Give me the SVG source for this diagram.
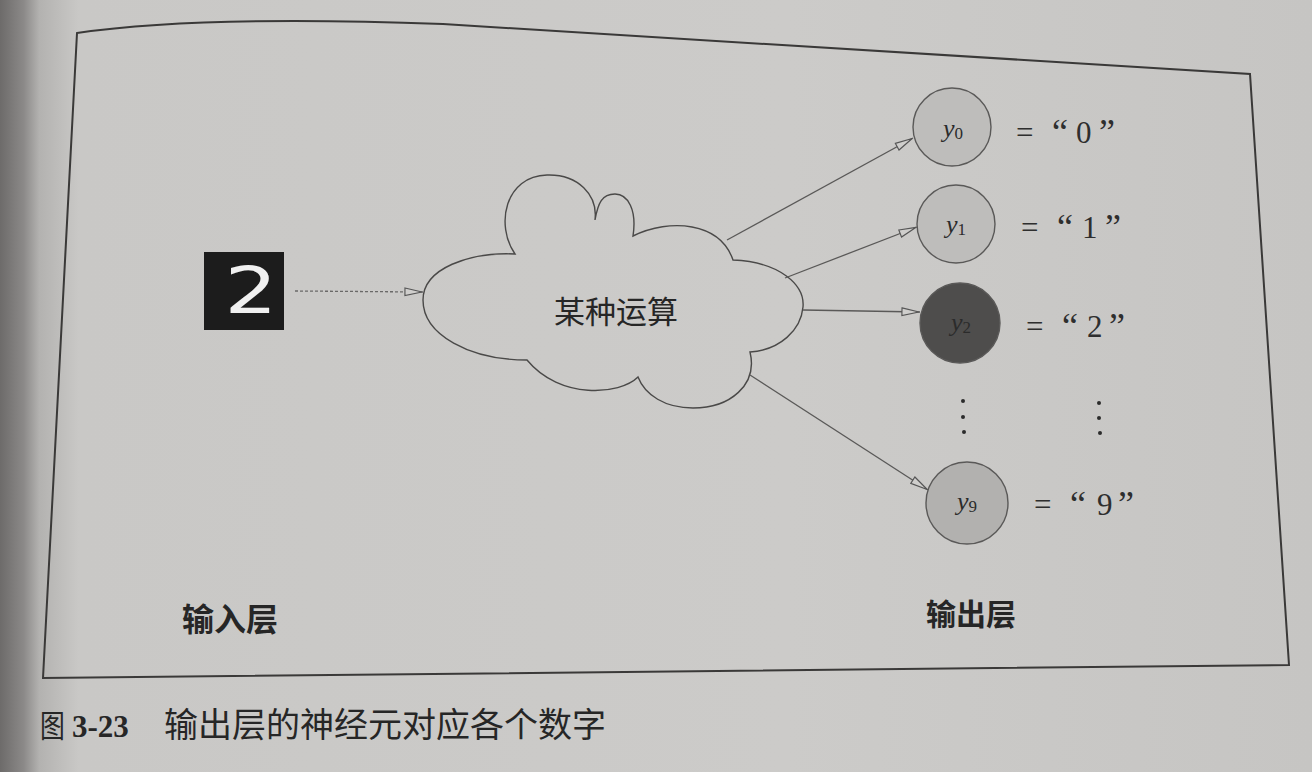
<svg xmlns="http://www.w3.org/2000/svg" width="1312" height="772" viewBox="0 0 1312 772">
  <defs>
    <linearGradient id="page" x1="0" y1="0" x2="1" y2="0">
      <stop offset="0" stop-color="#6d6b6a"/>
      <stop offset="0.018" stop-color="#8b8988"/>
      <stop offset="0.03" stop-color="#b3b2b0"/>
      <stop offset="0.06" stop-color="#c9c8c6"/>
      <stop offset="0.6" stop-color="#cccbc9"/>
      <stop offset="1" stop-color="#c6c5c3"/>
    </linearGradient>
    <marker id="open" viewBox="0 0 20 10" refX="20" refY="5" markerWidth="19" markerHeight="10" markerUnits="userSpaceOnUse" orient="auto">
      <path d="M1,1 L19,5 L1,9 Z" fill="#cfcecc" stroke="#555" stroke-width="1.2"/>
    </marker>
    <style>
      .frame { fill: none; stroke: #3a3938; stroke-width: 2; }
      .edge { fill: none; stroke: #5a5958; stroke-width: 1.3; marker-end: url(#open); }
      .dash { stroke-dasharray: 3 2; stroke: #6a6968; }
      .node { stroke: #5a5958; stroke-width: 1.4; }
      .light { fill: #bebdbb; }
      .mid { fill: #b2b1af; }
      .dark { fill: #4e4d4c; }
      .sym { font-family: "Liberation Serif", serif; font-style: italic; font-size: 26px; fill: #2b2b2b; }
      .sub { font-style: normal; font-size: 17px; }
      .eq { font-family: "Liberation Serif", serif; font-size: 31px; fill: #2e2e2e; }
      .q { font-size: 36px; }
      .cjk { font-family: "Noto Sans CJK SC", sans-serif; fill: #262626; }
      .dot { fill: #2b2b2b; }
    </style>
  </defs>

  <rect x="0" y="0" width="1312" height="772" fill="url(#page)"/>

  <g id="frame">
    <path class="frame" d="M77,33 Q200,15 443,24 L1250,74 L1289,665 L43,678 Z"/>
  </g>

  <g id="input-image">
    <rect x="204" y="252" width="80" height="78" fill="#1c1c1c"/>
    <text x="251" y="313" text-anchor="middle" font-family="DejaVu Sans, sans-serif" font-size="64" fill="#f0f0f0" transform="translate(251,0) scale(1.3,1) translate(-251,0)">2</text>
  </g>

  <g id="cloud">
    <path d="M527,360 C470,360 423,335 423,300 C423,268 470,252 515,254 C495,225 505,176 547,175 C578,174 598,195 595,220 C598,203 602,194 615,194 C628,194 637,210 633,236 C670,218 720,222 733,260 C780,262 805,285 803,307 C801,330 780,350 750,352 C758,385 730,408 693,408 C665,408 645,395 638,377 C620,395 560,400 527,360 Z" fill="none" stroke="#4a4948" stroke-width="1.4"/>
    <text class="cjk" x="616" y="323" text-anchor="middle" font-size="31">某种运算</text>
  </g>

  <g id="connectors">
    <line class="edge dash" x1="295" y1="291" x2="423" y2="292"/>
    <line class="edge" x1="727" y1="240" x2="913" y2="138"/>
    <line class="edge" x1="785" y1="278" x2="917" y2="227"/>
    <line class="edge" x1="803" y1="310" x2="920" y2="312"/>
    <line class="edge" x1="750" y1="375" x2="928" y2="490"/>
  </g>

  <g id="node-y0">
    <circle class="node light" cx="952" cy="127" r="39"/>
    <text class="sym" x="953" y="137" text-anchor="middle">y<tspan class="sub" dy="2">0</tspan></text>
    <text class="eq" y="143"><tspan x="1016">=</tspan><tspan class="q" x="1052" dy="1">“</tspan><tspan x="1076" dy="-1">0</tspan><tspan class="q" x="1099" dy="1">”</tspan></text>
  </g>

  <g id="node-y1">
    <circle class="node light" cx="956" cy="224" r="39"/>
    <text class="sym" x="956" y="233" text-anchor="middle">y<tspan class="sub" dy="2">1</tspan></text>
    <text class="eq" y="238"><tspan x="1021">=</tspan><tspan class="q" x="1057" dy="1">“</tspan><tspan x="1082" dy="-1">1</tspan><tspan class="q" x="1105" dy="1">”</tspan></text>
  </g>

  <g id="node-y2">
    <circle class="node dark" cx="960" cy="323" r="40"/>
    <text class="sym" x="961" y="331" text-anchor="middle" fill="#262626">y<tspan class="sub" dy="2">2</tspan></text>
    <text class="eq" y="337"><tspan x="1026">=</tspan><tspan class="q" x="1062" dy="1">“</tspan><tspan x="1087" dy="-1">2</tspan><tspan class="q" x="1109" dy="1">”</tspan></text>
  </g>

  <g id="ellipsis">
    <circle class="dot" cx="963" cy="401" r="2"/>
    <circle class="dot" cx="963" cy="417" r="2"/>
    <circle class="dot" cx="964" cy="432" r="2"/>
    <circle class="dot" cx="1099" cy="403" r="2"/>
    <circle class="dot" cx="1099" cy="418" r="2"/>
    <circle class="dot" cx="1100" cy="433" r="2"/>
  </g>

  <g id="node-y9">
    <circle class="node mid" cx="967" cy="503" r="41"/>
    <text class="sym" x="967" y="510" text-anchor="middle">y<tspan class="sub" dy="2">9</tspan></text>
    <text class="eq" y="515"><tspan x="1034">=</tspan><tspan class="q" x="1070" dy="1">“</tspan><tspan x="1097" dy="-1">9</tspan><tspan class="q" x="1118" dy="1">”</tspan></text>
  </g>

  <g id="labels">
    <text class="cjk" x="182" y="631" font-size="32" font-weight="bold">输入层</text>
    <text class="cjk" x="926" y="625" font-size="30" font-weight="bold">输出层</text>
  </g>

  <g id="caption">
    <text class="cjk" x="40" y="737" font-size="31" transform="translate(40,0) scale(0.8,1) translate(-40,0)">图</text>
    <text x="72" y="737" font-family="Liberation Serif, serif" font-weight="bold" font-size="31" fill="#262626">3-23</text>
    <text class="cjk" x="164" y="737" font-size="34">输出层的神经元对应各个数字</text>
  </g>
</svg>
